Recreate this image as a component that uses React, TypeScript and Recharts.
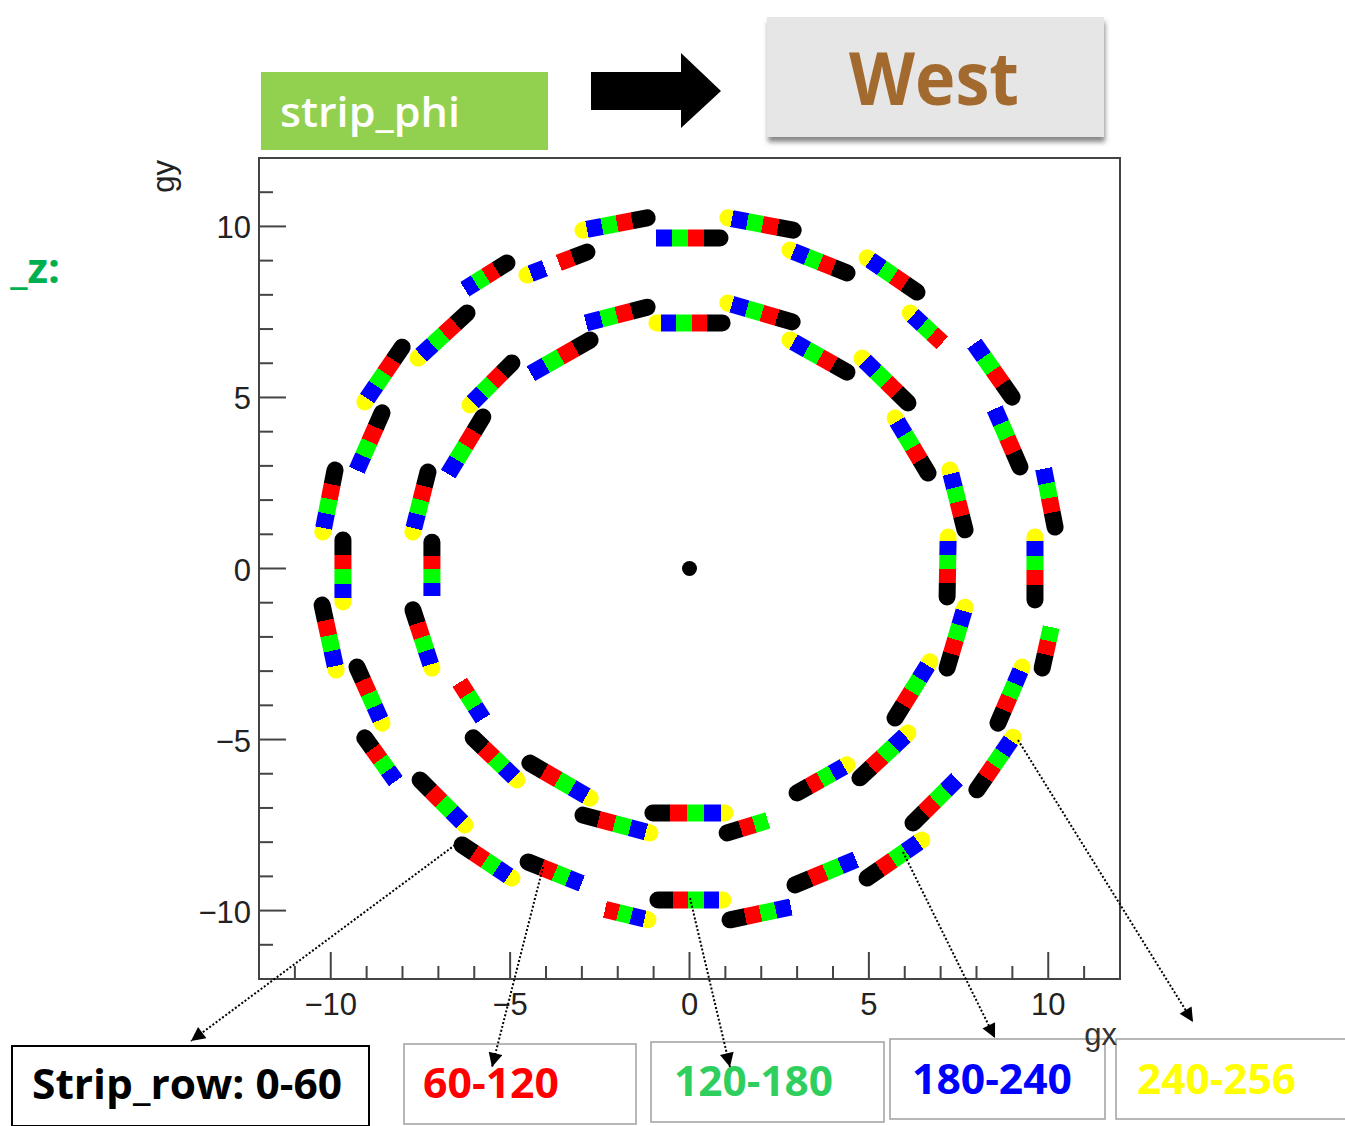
import { ScatterChart, Scatter, XAxis, YAxis, ReferenceArea } from "recharts";

// strip_row bands and their colours
const stripRowEdges = [0, 60, 120, 180, 240, 256];
const stripRowColors = ["#000000", "#ff0000", "#00ff00", "#0000ff", "#ffff00"];
const stripRowLabels = ["Strip_row: 0-60", "60-120", "120-180", "180-240", "240-256"];

// each strip: [gx, gy] at row 0 end, then [gx, gy] at row 256 end
const outerStrips: [number, number, number, number][] = [
  [2.89, 9.89, 1.07, 10.25],
  [0.85, 9.66, -1.05, 9.66],
  [-1.18, 10.25, -2.97, 9.89],
  [-2.86, 9.25, -4.53, 8.58],
  [-5.09, 8.93, -6.34, 8.11],
  [-6.2, 7.47, -7.57, 6.15],
  [-8.01, 6.47, -9.05, 4.87],
  [-8.57, 4.55, -9.32, 2.76],
  [-9.88, 2.88, -10.22, 1.07],
  [-9.66, 0.83, -9.66, -0.98],
  [-10.24, -1.07, -9.85, -2.97],
  [-9.27, -2.88, -8.57, -4.52],
  [-9.05, -4.95, -8.13, -6.3],
  [-7.51, -6.18, -6.26, -7.5],
  [-6.34, -8.08, -4.95, -9.05],
  [-4.5, -8.58, -2.91, -9.25],
  [-2.72, -9.87, -1.16, -10.27],
  [-0.88, -9.69, 0.93, -9.69],
  [1.13, -10.27, 2.94, -9.87],
  [2.94, -9.25, 4.75, -8.46],
  [4.95, -9.05, 6.48, -7.94],
  [6.23, -7.44, 7.54, -6.07],
  [8.01, -6.47, 9.02, -4.93],
  [8.6, -4.52, 9.27, -2.88],
  [9.83, -2.91, 10.19, -1.21],
  [9.63, -0.92, 9.63, 0.92],
  [10.19, 1.21, 9.85, 3.03],
  [9.21, 2.97, 8.46, 4.78],
  [8.99, 5.01, 7.87, 6.68],
  [7.32, 6.33, 6.15, 7.47],
  [6.34, 8.08, 4.95, 9.08],
  [4.39, 8.64, 2.8, 9.31],
];

const innerStrips: [number, number, number, number][] = [
  [2.86, 7.21, 1.07, 7.76],
  [0.91, 7.18, -0.91, 7.18],
  [-1.18, 7.64, -3.0, 7.15],
  [-2.77, 6.68, -4.53, 5.63],
  [-4.95, 6.01, -6.12, 4.78],
  [-5.76, 4.43, -6.79, 2.65],
  [-7.29, 2.82, -7.71, 1.07],
  [-7.18, 0.77, -7.18, -0.92],
  [-7.71, -1.21, -7.18, -2.91],
  [-6.62, -2.97, -5.7, -4.49],
  [-6.03, -4.95, -4.81, -6.18],
  [-4.45, -5.69, -2.77, -6.71],
  [-2.97, -7.21, -1.1, -7.73],
  [-1.02, -7.15, 0.99, -7.15],
  [1.05, -7.73, 2.66, -7.21],
  [3.0, -6.56, 4.39, -5.74],
  [4.75, -6.12, 6.09, -4.81],
  [5.73, -4.37, 6.7, -2.73],
  [7.18, -2.91, 7.68, -1.13],
  [7.18, -0.83, 7.21, 0.92],
  [7.68, 1.13, 7.26, 2.88],
  [6.65, 2.79, 5.73, 4.4],
  [6.09, 4.84, 4.81, 6.15],
  [4.39, 5.74, 2.8, 6.68],
];

// bands with no hits on a strip (strip index -> band indices)
const outerEmptyBands: Record<number, number[]> = {
  1: [4], 3: [2], 4: [4], 7: [4], 12: [4], 15: [4], 16: [0], 18: [4],
  19: [4], 21: [4], 24: [3, 4], 26: [4], 27: [4], 28: [4], 29: [0],
};
const innerEmptyBands: Record<number, number[]> = {
  2: [4], 3: [4], 5: [4], 7: [4], 9: [0, 4], 14: [3, 4],
};

const beamSpot = [{ x: 0, y: 0 }];
const axisTicks = [-11, -10, -9, -8, -7, -6, -5, -4, -3, -2, -1, 0, 1, 2, 3, 4, 5, 6, 7, 8, 9, 10, 11];

// dotted pointers: strip in the plot -> legend box (page pixels)
const pointers = [
  [455, 845, 191, 1041],
  [543, 867, 492, 1067],
  [690, 898, 730, 1067],
  [903, 852, 995, 1038],
  [1018, 740, 1193, 1022],
];
const legendBoxes = [
  { x: 12, y: 1046, w: 357, h: 80, tx: 32, ty: 1099, tw: 310, stroke: "#000", sw: 2 },
  { x: 404, y: 1044, w: 232, h: 80, tx: 423, ty: 1098, tw: 136, stroke: "#a0a0a0", sw: 1.5 },
  { x: 651, y: 1042, w: 233, h: 80, tx: 674, ty: 1096, tw: 159, stroke: "#a0a0a0", sw: 1.5 },
  { x: 890, y: 1039, w: 215, h: 80, tx: 912, ty: 1094, tw: 160, stroke: "#a0a0a0", sw: 1.5 },
  { x: 1116, y: 1039, w: 240, h: 80, tx: 1137, ty: 1094, tw: 159, stroke: "#a0a0a0", sw: 1.5 },
];
const legendTextColors = ["#000000", "#ff0000", "#2fcf5f", "#0000ff", "#ffff00"];

const fmt = (v: number) => (v < 0 ? "\u2212" + Math.abs(v) : String(v));

const stripLine = (id: string, empty: number[]) => (props: any) => {
  const pts = props.points;
  if (!pts || pts.length < 2) return <g />;
  const a = pts[0];
  const b = pts[1];
  return (
    <g>
      <defs>
        <linearGradient id={id} gradientUnits="userSpaceOnUse" x1={a.x} y1={a.y} x2={b.x} y2={b.y}>
          {stripRowColors.map((c, i) => {
            const op = empty.includes(i) ? 0 : 1;
            return [
              <stop key={i + "a"} offset={stripRowEdges[i] / 256} stopColor={c} stopOpacity={op} />,
              <stop key={i + "b"} offset={stripRowEdges[i + 1] / 256} stopColor={c} stopOpacity={op} />,
            ];
          })}
        </linearGradient>
      </defs>
      <path
        d={`M${a.x},${a.y}L${b.x},${b.y}`}
        stroke={`url(#${id})`}
        strokeWidth={17}
        strokeLinecap="round"
        fill="none"
      />
    </g>
  );
};

const XTick = (p: any) => {
  const v = p.payload.value;
  const major = v % 5 === 0;
  return (
    <g>
      <line x1={p.x} x2={p.x} y1={p.y} y2={p.y - (major ? 27 : 13)} stroke="#444" strokeWidth={2} />
      {major && (
        <text x={p.x} y={p.y + 36} textAnchor="middle" fontSize={31} fontFamily="Liberation Sans" fill="#222">
          {fmt(v)}
        </text>
      )}
    </g>
  );
};

const YTick = (p: any) => {
  const v = p.payload.value;
  const major = v % 5 === 0;
  return (
    <g>
      <line x1={p.x} x2={p.x + (major ? 27 : 14)} y1={p.y} y2={p.y} stroke="#444" strokeWidth={2} />
      {major && (
        <text x={p.x - 8} y={p.y + 12} textAnchor="end" fontSize={31} fontFamily="Liberation Sans" fill="#222">
          {fmt(v)}
        </text>
      )}
    </g>
  );
};

const Annotations = () => (
  <svg
    width={1345}
    height={1126}
    style={{ position: "absolute", left: 0, top: 0, pointerEvents: "none" }}
  >
    <defs>
      <filter id="boxShadow" x="-10%" y="-10%" width="130%" height="140%">
        <feDropShadow dx={1} dy={5} stdDeviation={2.5} floodColor="#555" floodOpacity={0.7} />
      </filter>
      <marker id="tip" viewBox="0 0 10 10" refX={10} refY={5} markerWidth={16} markerHeight={14} markerUnits="userSpaceOnUse" orient="auto">
        <path d="M0,0 L10,5 L0,10 z" fill="#000" />
      </marker>
    </defs>

    <text x={60} y={283} textAnchor="end" fontFamily="Open Sans" fontWeight={700} fontSize={42} fill="#00b050">
      _z:
    </text>

    <rect x={261} y={72} width={287} height={78} fill="#92d050" />
    <text x={280} y={127} fontFamily="Open Sans" fontWeight={600} fontSize={42} fill="#fff" textLength={180} lengthAdjust="spacingAndGlyphs">
      strip_phi
    </text>

    <polygon points="591,72 681,72 681,53 721,91 681,128 681,110 591,110" fill="#000" />

    <rect x={767} y={17} width={337} height={120} fill="#e6e6e6" filter="url(#boxShadow)" />
    <text x={849} y={105} fontFamily="Open Sans" fontWeight={700} fontSize={73} fill="#a26a2e" textLength={170} lengthAdjust="spacingAndGlyphs">
      West
    </text>

    <text x={174} y={160} transform="rotate(-90 174 160)" textAnchor="end" fontFamily="Liberation Sans" fontSize={31} fill="#222">
      gy
    </text>

    {legendBoxes.map((b, i) => (
      <g key={i}>
        <rect x={b.x} y={b.y} width={b.w} height={b.h} fill="#fff" stroke={b.stroke} strokeWidth={b.sw} />
        <text
          x={b.tx}
          y={b.ty}
          fontFamily="Open Sans"
          fontWeight={700}
          fontSize={42}
          fill={legendTextColors[i]}
          textLength={b.tw}
          lengthAdjust="spacingAndGlyphs"
        >
          {stripRowLabels[i]}
        </text>
      </g>
    ))}

    <text x={1117} y={1045} textAnchor="end" fontFamily="Liberation Sans" fontSize={31} fill="#333">
      gx
    </text>

    {pointers.map((p, i) => (
      <line
        key={i}
        x1={p[0]}
        y1={p[1]}
        x2={p[2]}
        y2={p[3]}
        stroke="#000"
        strokeWidth={2}
        strokeDasharray="2 2"
        markerEnd="url(#tip)"
      />
    ))}
  </svg>
);

const App = () => {
  return (
    <div style={{ position: "absolute", left: 0, top: 0, width: 1345, height: 1126, overflow: "hidden", background: "#fff" }}>
      <ScatterChart width={1345} height={1126} margin={{ top: 158, right: 225, bottom: 117, left: 199 }}>
        <XAxis
          type="number"
          dataKey="x"
          domain={[-12, 12]}
          ticks={axisTicks}
          interval={0}
          allowDataOverflow
          height={30}
          axisLine={false}
          tickLine={false}
          tickSize={0}
          tickMargin={0}
          tick={XTick}
        />
        <YAxis
          type="number"
          dataKey="y"
          domain={[-12, 12]}
          ticks={axisTicks}
          interval={0}
          allowDataOverflow
          width={60}
          axisLine={false}
          tickLine={false}
          tickSize={0}
          tickMargin={0}
          tick={YTick}
        />
        <ReferenceArea x1={-12} x2={12} y1={-12} y2={12} fill="none" fillOpacity={0} stroke="#444" strokeWidth={2} />
        {outerStrips.map((s, i) => (
          <Scatter
            key={"o" + i}
            data={[{ x: s[0], y: s[1] }, { x: s[2], y: s[3] }]}
            line={stripLine("outer" + i, outerEmptyBands[i] || [])}
            shape={() => <g />}
            isAnimationActive={false}
          />
        ))}
        {innerStrips.map((s, i) => (
          <Scatter
            key={"i" + i}
            data={[{ x: s[0], y: s[1] }, { x: s[2], y: s[3] }]}
            line={stripLine("inner" + i, innerEmptyBands[i] || [])}
            shape={() => <g />}
            isAnimationActive={false}
          />
        ))}
        <Scatter
          data={beamSpot}
          shape={(p: any) => <circle cx={p.cx} cy={p.cy} r={7.5} fill="#000" />}
          isAnimationActive={false}
        />
      </ScatterChart>
      <Annotations />
    </div>
  );
};

export default App;
